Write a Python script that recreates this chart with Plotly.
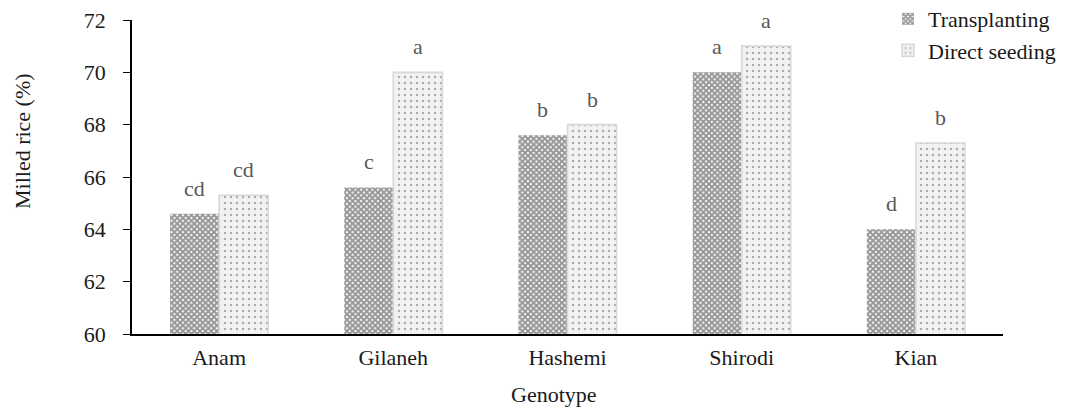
import plotly.graph_objects as go

genotypes = ["Anam", "Gilaneh", "Hashemi", "Shirodi", "Kian"]
transplanting = [64.6, 65.6, 67.6, 70.0, 64.0]
direct_seeding = [65.3, 70.0, 68.0, 71.0, 67.3]
letters_t = ["cd", "c", "b", "a", "d"]
letters_d = ["cd", "a", "b", "a", "b"]
y_ticks = [60, 62, 64, 66, 68, 70, 72]

bargap = 0.437
font_family = "Liberation Serif, Times New Roman, serif"
fs = 22

fig = go.Figure()
fig.add_trace(go.Bar(
    x=genotypes, y=transplanting, name="Transplanting",
    marker=dict(color="white", line=dict(width=0),
                pattern=dict(shape="x", size=4, solidity=0.75, fgcolor="#2e2e2e", bgcolor="#ffffff")),
))
fig.add_trace(go.Bar(
    x=genotypes, y=direct_seeding, name="Direct seeding",
    marker=dict(color="#f2f2f2", line=dict(width=1.6, color="#d9d9d9"),
                pattern=dict(shape=".", size=6, solidity=0.14, fgcolor="#666666", bgcolor="#f2f2f2")),
))

half = (1 - bargap) / 4
for i, (vt, vd, lt, ld) in enumerate(zip(transplanting, direct_seeding, letters_t, letters_d)):
    for off, v, lab in ((-half, vt, lt), (half, vd, ld)):
        fig.add_annotation(x=i + off, y=v, xref="x", yref="y", text=lab, showarrow=False,
                           yanchor="bottom", yshift=11,
                           font=dict(family=font_family, size=fs, color="#595959"))

fig.add_annotation(x=0.485, y=-0.194, xref="paper", yref="paper", text="Genotype",
                   showarrow=False, xanchor="center", yanchor="middle",
                   font=dict(family=font_family, size=fs, color="#1a1a1a"))
fig.add_annotation(x=-0.125, y=0.615, xref="paper", yref="paper", text="Milled rice (%)",
                   showarrow=False, textangle=-90, xanchor="center", yanchor="middle",
                   font=dict(family=font_family, size=fs, color="#1a1a1a"))

fig.update_layout(
    width=1067, height=404,
    margin=dict(l=124, r=72, t=12, b=78, autoexpand=False),
    barmode="group", bargap=bargap, bargroupgap=0,
    plot_bgcolor="white", paper_bgcolor="white",
    font=dict(family=font_family, size=fs, color="#1a1a1a"),
    showlegend=True,
    legend=dict(x=0.868, y=1.07, xanchor="left", yanchor="top",
                font=dict(family=font_family, size=fs, color="#1a1a1a"),
                bgcolor="rgba(0,0,0,0)", itemwidth=30, tracegroupgap=0),
    xaxis=dict(showline=True, linecolor="black", linewidth=1.5,
               ticks="", showgrid=False, tickfont=dict(size=fs), ticklabelstandoff=3),
    yaxis=dict(range=[60, 72], tickvals=y_ticks, showline=True, linecolor="black", linewidth=1.5,
               ticks="outside", ticklen=7, tickcolor="black", showgrid=False, zeroline=False,
               tickfont=dict(size=fs), ticklabelstandoff=13, ticklabeloverflow="allow"),
)

fig.write_html("out.html")
